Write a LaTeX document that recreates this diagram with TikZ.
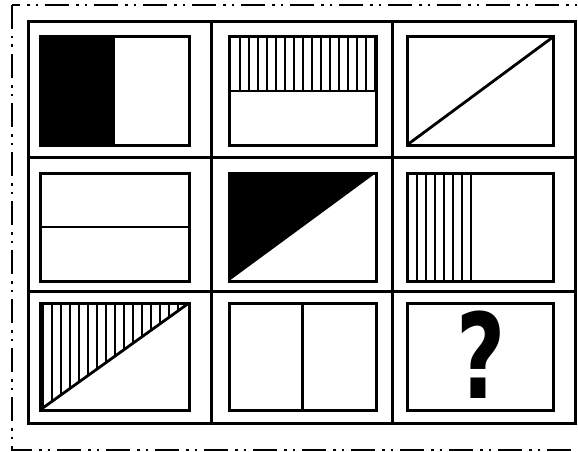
\documentclass[tikz,border=0pt]{standalone}
\usepackage{fontspec}
\newfontfamily\qfont{DejaVu Sans}
\begin{document}
\begin{tikzpicture}[x=1pt,y=-1pt,
  gridline/.style={line width=3pt},
  box/.style={draw,line width=3pt},
  stripe/.style={line width=2.8pt},
  divider/.style={line width=2.8pt}]
\useasboundingbox (0,0) rectangle (578,452);
% outer dash-dot frame
\draw[line width=2.2pt, dash pattern=on 24pt off 7pt on 2.5pt off 6pt on 2.5pt off 7pt]
  (12,5) rectangle (600,450);
% grid
\draw[gridline] (28,22) rectangle (575,423);
\draw[gridline] (211,22) -- (211,423);
\draw[gridline] (392,22) -- (392,423);
\draw[gridline] (28,157) -- (575,157);
\draw[gridline] (28,291) -- (575,291);

% cell 1,1
\fill (40,37) rectangle (115,145);
\draw[box] (40,37) rectangle (189,145);

% cell 1,2
\begin{scope}
  \clip (229,37) rectangle (376,91);
  \foreach \k in {0,...,15} \draw[stripe] ({240+9*\k},30) -- ({240+9*\k},100);
\end{scope}
\draw[divider] (229,91) -- (376,91);
\draw[box] (229,37) rectangle (376,145);

% cell 1,3
\draw[divider] (407,145) -- (553,37);
\draw[box] (407,37) rectangle (553,145);

% cell 2,1
\draw[divider] (40,227) -- (189,227);
\draw[box] (40,173) rectangle (189,281);

% cell 2,2
\fill (229,173) -- (376,173) -- (229,281) -- cycle;
\draw[box] (229,173) rectangle (376,281);

% cell 2,3
\begin{scope}
  \clip (407,173) rectangle (473,281);
  \foreach \k in {0,...,6} \draw[stripe] ({417+9*\k},165) -- ({417+9*\k},290);
\end{scope}
\draw[box] (407,173) rectangle (553,281);

% cell 3,1
\begin{scope}
  \clip (40,303) -- (189,303) -- (40,410) -- cycle;
  \foreach \k in {0,...,16} \draw[stripe] ({43+9*\k},295) -- ({43+9*\k},415);
\end{scope}
\draw[divider] (40,410) -- (189,303);
\draw[box] (40,303) rectangle (189,410);

% cell 3,2
\draw[divider] (302.5,303) -- (302.5,410);
\draw[box] (229,303) rectangle (376,410);

% cell 3,3
\draw[box] (407,303) rectangle (553,410);
\node[anchor=base, inner sep=0pt, xscale=0.72, font=\qfont\bfseries\fontsize{118}{118}\selectfont] (q) at (481,398) {?};
\end{tikzpicture}
\end{document}
